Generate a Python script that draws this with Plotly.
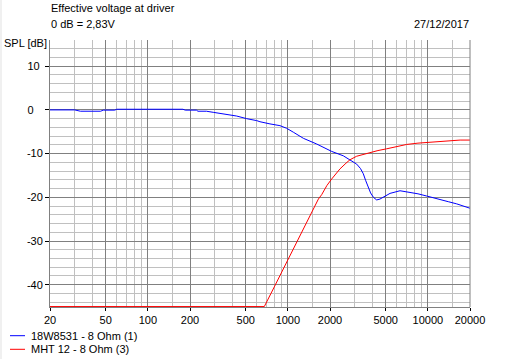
import plotly.graph_objects as go

# ---------------- data ----------------
freq_18w8531 = [20, 30, 33, 40, 46, 48, 58, 60, 100, 178, 185, 222, 228, 262, 293, 346, 431,
                508, 537, 599, 632, 706, 745, 878, 980, 1094, 1291, 1607, 1894, 2057, 2489,
                2780, 3100, 3300, 3458, 3600, 3758, 3900, 4084, 4310, 4550, 4808, 5367, 6325,
                7452, 8500, 9800, 12200, 14000, 16070, 20000]
spl_18w8531 = [0.0, 0.0, -0.3, -0.3, -0.3, -0.05, -0.05, 0.15, 0.15, 0.15, -0.05, -0.05, -0.3,
               -0.3, -0.55, -0.95, -1.4, -2.0, -2.1, -2.45, -2.7, -3.1, -3.2, -3.6, -4.2,
               -5.1, -6.5, -7.8, -8.9, -9.5, -10.5, -11.4, -12.4, -13.4, -14.6, -16.2, -17.7,
               -19.0, -20.0, -20.6, -20.4, -20.0, -19.1, -18.5, -18.8, -19.2, -19.7, -20.4,
               -21.0, -21.5, -22.5]

freq_mht12 = [20, 679, 800, 1000, 1200, 1400, 1520, 1652, 1744, 1900, 2057, 2356, 2600, 2780,
              3100, 3500, 3862, 4400, 5080, 6000, 7060, 8500, 10360, 13620, 17000, 20000]
spl_mht12 = [-45.0, -45.0, -40.5, -34.3, -29.3, -25.0, -22.7, -20.4, -19.4, -17.3, -15.8,
             -13.5, -12.2, -11.4, -10.6, -10.1, -9.7, -9.3, -8.9, -8.4, -7.9, -7.6, -7.4,
             -7.0, -6.9, -6.9]

series_names = ["18W8531 - 8 Ohm (1)", "MHT 12 - 8 Ohm (3)"]
series_colors = ["#0000ff", "#ff0000"]

x_tick_vals = [20, 50, 100, 200, 500, 1000, 2000, 5000, 10000, 20000]
x_tick_text = ["20", "50", "100", "200", "500", "1000", "2000", "5000", "10000", "20000"]
x_minor_vals = [30, 40, 60, 70, 80, 90, 150, 300, 400, 600, 700, 800, 900, 1500,
                3000, 4000, 6000, 7000, 8000, 9000, 15000]
y_tick_vals = [10, 0, -10, -20, -30, -40]
y_tick_text = ["10\u00a0", "0\u00a0\u00a0\u00a0", "-10", "-20", "-30", "-40"]

title_line1 = "Effective voltage at driver"
title_line2 = "0 dB = 2,83V"
date_text = "27/12/2017"
y_title = "SPL [dB]"

# ---------------- layout geometry ----------------
W, H = 514, 359
L, R, T, B = 50, 44, 40, 52
PW, PH = W - L - R, H - T - B

def px_x(px):
    return (px - L) / PW

def px_y(py):
    return (H - B - py) / PH

FONT = "Liberation Sans, Arial, sans-serif"
DARK = "#808080"
LIGHT = "#c0c0c0"

fig = go.Figure()
fig.add_trace(go.Scatter(x=freq_18w8531, y=spl_18w8531, mode="lines", name=series_names[0],
                         line=dict(color=series_colors[0], width=1), showlegend=False))
fig.add_trace(go.Scatter(x=freq_mht12, y=spl_mht12, mode="lines", name=series_names[1],
                         line=dict(color=series_colors[1], width=1), showlegend=False))

fig.update_xaxes(type="log", range=[1.30103, 4.30103],
                 tickmode="array", tickvals=x_tick_vals, ticktext=x_tick_text,
                 showgrid=True, gridcolor=DARK, gridwidth=1,
                 ticks="outside", ticklen=3, tickcolor="#000000", tickwidth=1,
                 showline=True, linecolor=DARK, linewidth=1,
                 zeroline=False, layer="below traces",
                 tickfont=dict(family=FONT, size=11, color="#000000"),
                 minor=dict(tickmode="array", tickvals=x_minor_vals, showgrid=True,
                            gridcolor=LIGHT, gridwidth=1, ticks=""))
fig.update_yaxes(range=[-45.1, 16],
                 tickmode="array", tickvals=y_tick_vals, ticktext=y_tick_text,
                 showgrid=True, gridcolor=DARK, gridwidth=1,
                 ticks="outside", ticklen=4, tickcolor="#000000", tickwidth=1,
                 showline=True, linecolor=DARK, linewidth=1,
                 zeroline=False, layer="below traces",
                 tickfont=dict(family=FONT, size=11, color="#000000"),
                 minor=dict(dtick=2, showgrid=True, gridcolor=LIGHT, gridwidth=1, ticks=""))

shapes = [
    # thin window edge on the left
    dict(type="rect", xref="paper", yref="paper", x0=px_x(0), x1=px_x(2),
         y0=px_y(H), y1=px_y(0), fillcolor="#f0f0f0", line=dict(width=0), layer="below"),
    # right border
    dict(type="line", xref="paper", yref="paper", x0=1, x1=1, y0=0, y1=1,
         line=dict(color=DARK, width=1)),
]
annotations = [
    dict(text=title_line1, x=px_x(49), y=px_y(7.5), xanchor="left", yanchor="middle"),
    dict(text=title_line2, x=px_x(49), y=px_y(24.5), xanchor="left", yanchor="middle"),
    dict(text=date_text, x=px_x(471), y=px_y(24.5), xanchor="right", yanchor="middle"),
    dict(text=y_title, x=px_x(2), y=px_y(43), xanchor="left", yanchor="middle"),
]
legend_rows = [335.7, 349.3]
for name, color, row in zip(series_names, series_colors, legend_rows):
    shapes.append(dict(type="line", xref="paper", yref="paper",
                       x0=px_x(10), x1=px_x(25), y0=px_y(row), y1=px_y(row),
                       line=dict(color=color, width=1)))
    annotations.append(dict(text=name, x=px_x(29), y=px_y(row), xanchor="left",
                            yanchor="middle"))

for a in annotations:
    a.update(xref="paper", yref="paper", showarrow=False,
             font=dict(family=FONT, size=11, color="#000000"))

fig.update_layout(width=W, height=H, margin=dict(l=L, r=R, t=T, b=B),
                  paper_bgcolor="#ffffff", plot_bgcolor="#ffffff",
                  shapes=shapes, annotations=annotations, showlegend=False)

fig.write_html("out.html", config={"displayModeBar": False},
               post_script="document.body.style.margin='0';document.body.style.padding='0';")
